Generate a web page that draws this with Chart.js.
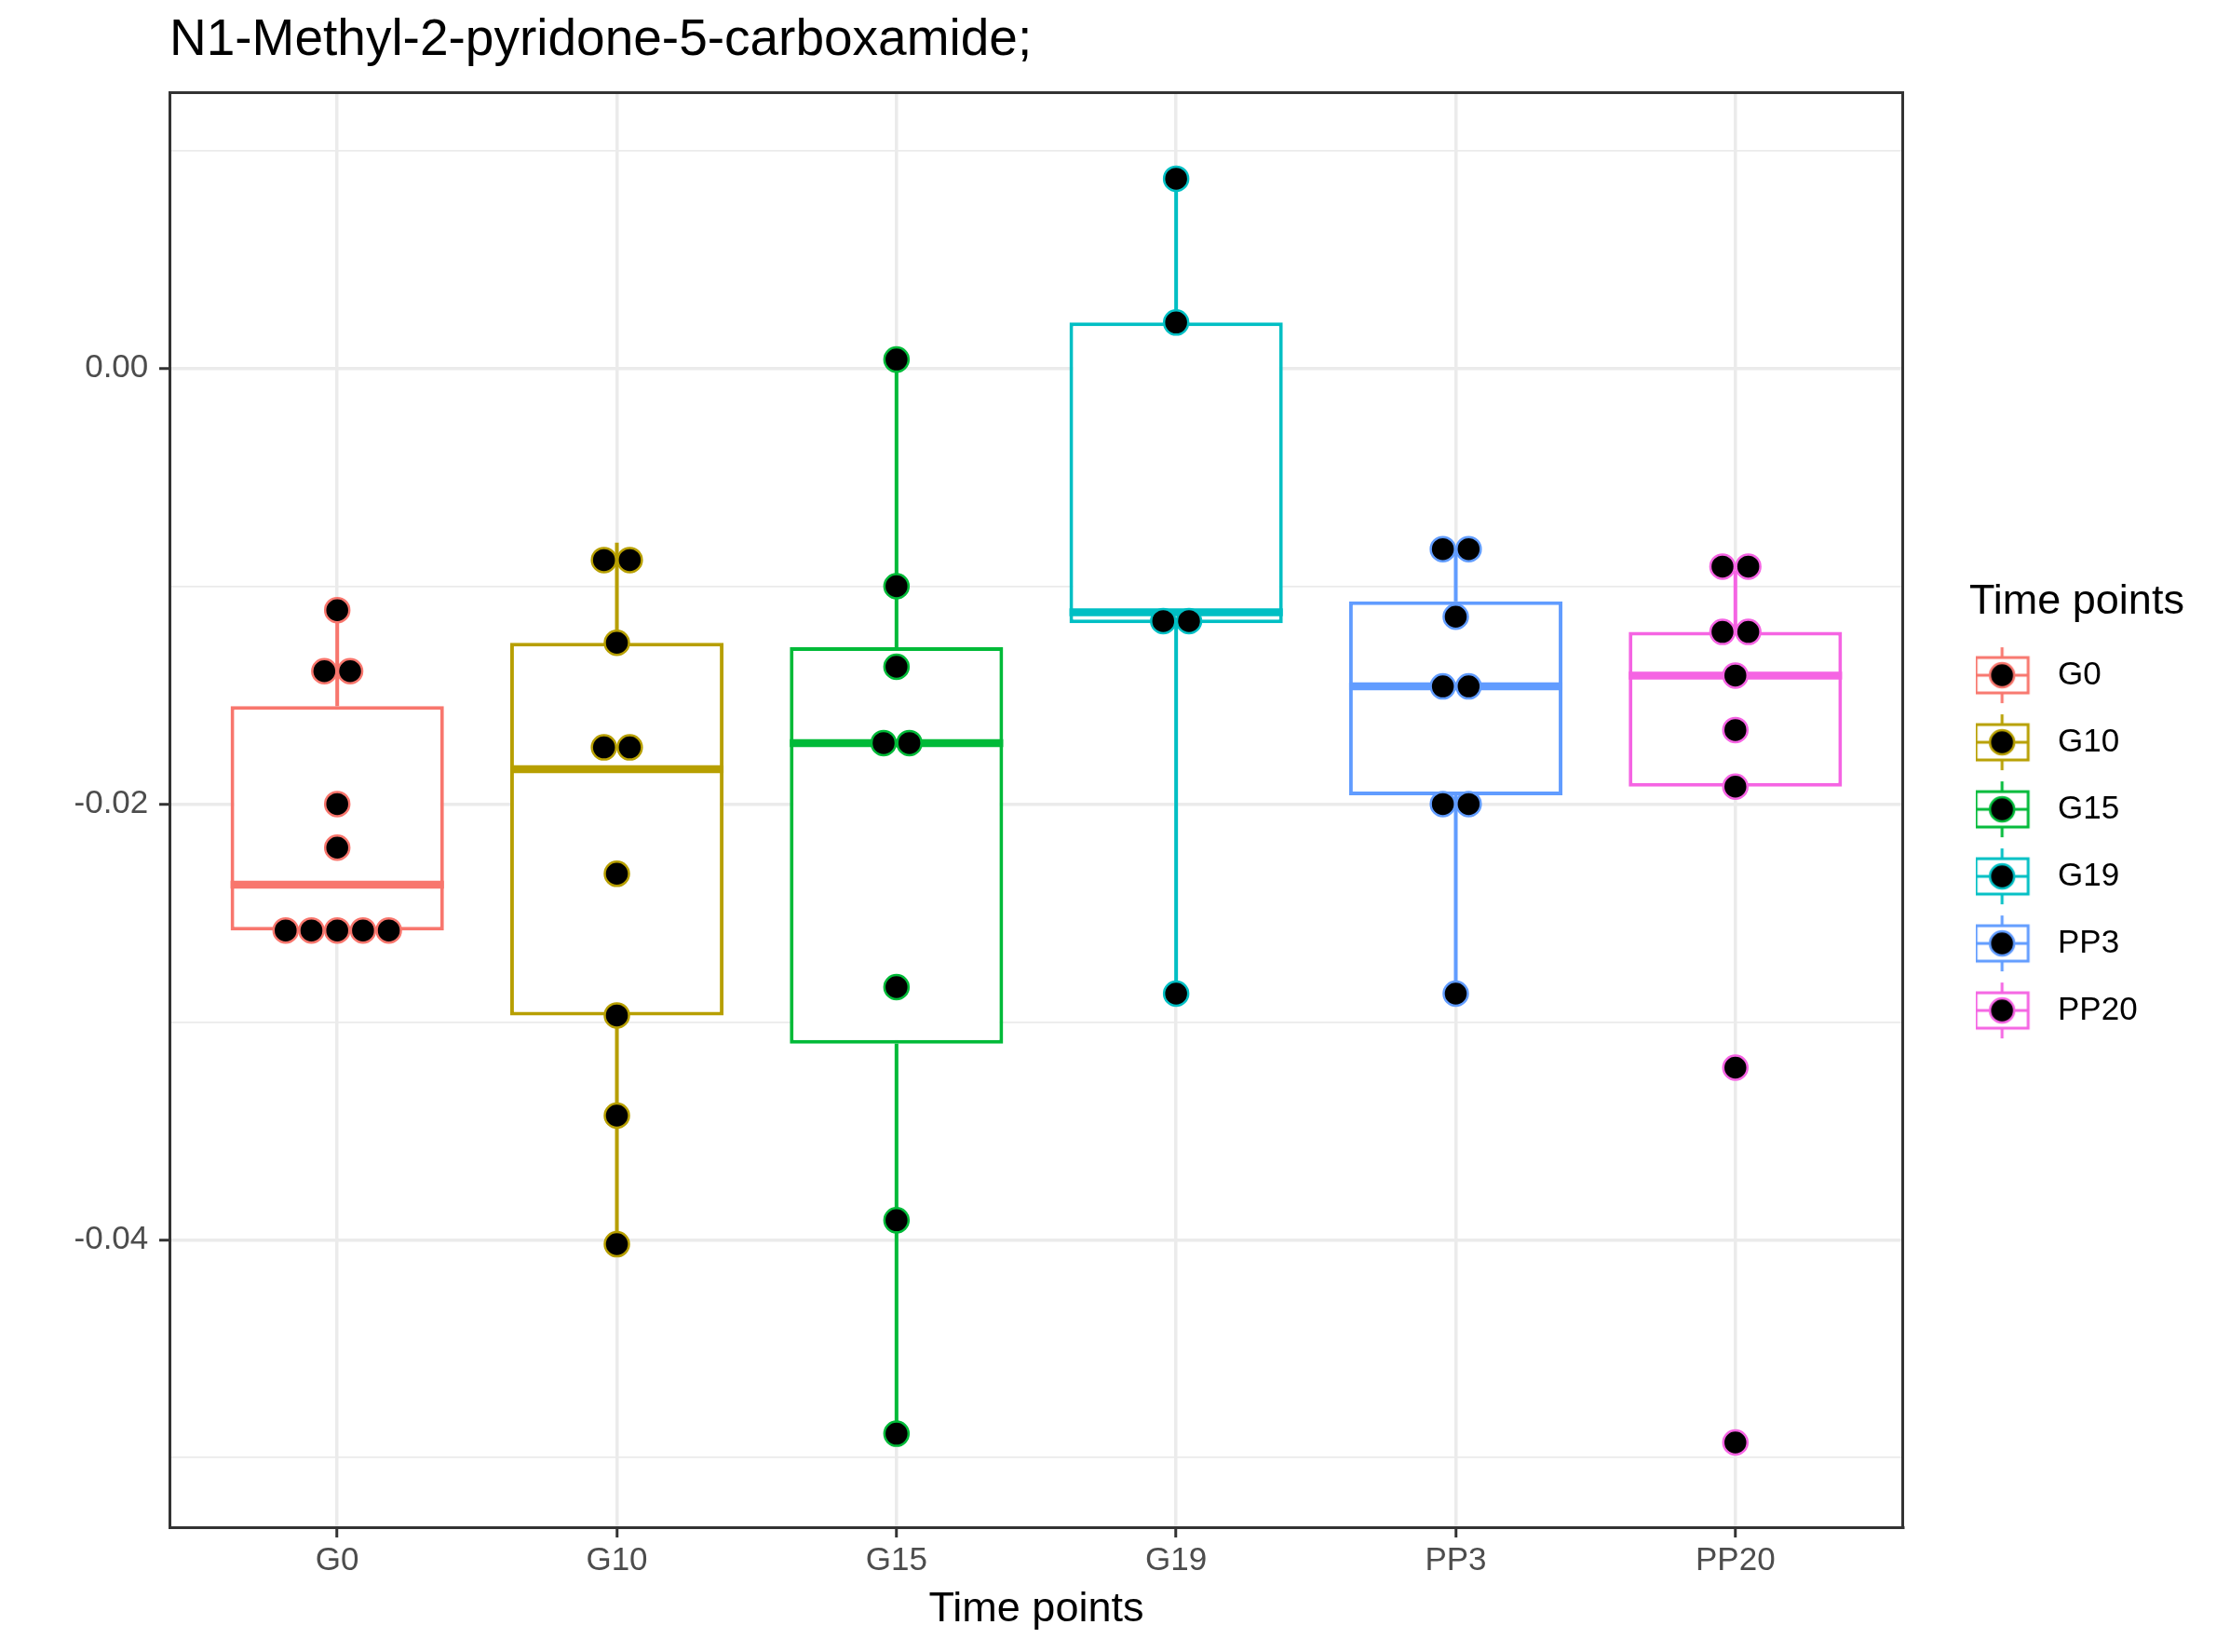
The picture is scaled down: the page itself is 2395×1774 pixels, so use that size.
<!DOCTYPE html>
<html>
<head>
<meta charset="utf-8">
<script src="https://cdn.jsdelivr.net/npm/chart.js@4.4.1/dist/chart.umd.min.js"></script>
<style>
  html, body { margin: 0; padding: 0; background: #fff; }
  #wrap { width: 2395px; height: 1774px; }
</style>
</head>
<body>
<div id="wrap"><canvas id="chart" width="2395" height="1774"></canvas></div>
<script>
// x categories and their ggplot hue colours
const groups = ["G0", "G10", "G15", "G19", "PP3", "PP20"];
const colors = ["#F8766D", "#B79F00", "#00BA38", "#00BFC4", "#619CFF", "#F564E3"];

// box statistics
const whiskerLow  = [-0.0258, -0.0402, -0.0489, -0.0287, -0.0287, -0.0192];
const q1          = [-0.0258, -0.0297, -0.0310, -0.0117, -0.0196, -0.0192];
const median      = [-0.0237, -0.0184, -0.0172, -0.0112, -0.0146, -0.0141];
const q3          = [-0.0155, -0.0126, -0.0128,  0.0021, -0.0107, -0.0121];
const whiskerHigh = [-0.0111, -0.0080,  0.0004,  0.0087, -0.0083, -0.0093];

// dot plot values (binned, repeated values sit side by side)
const dotsG0   = [-0.0111, -0.0139, -0.0139, -0.0200, -0.0220, -0.0258, -0.0258, -0.0258, -0.0258, -0.0258];
const dotsG10  = [-0.0088, -0.0088, -0.0126, -0.0174, -0.0174, -0.0232, -0.0297, -0.0343, -0.0402];
const dotsG15  = [0.0004, -0.0100, -0.0137, -0.0172, -0.0172, -0.0284, -0.0391, -0.0489];
const dotsG19  = [0.0087, 0.0021, -0.0116, -0.0116, -0.0287];
const dotsPP3  = [-0.0083, -0.0083, -0.0114, -0.0146, -0.0146, -0.0200, -0.0200, -0.0287];
const dotsPP20 = [-0.0091, -0.0091, -0.0121, -0.0121, -0.0141, -0.0166, -0.0192, -0.0321, -0.0493];
const dots = [dotsG0, dotsG10, dotsG15, dotsG19, dotsPP3, dotsPP20];

// y axis range
const yMin = -0.05319, yMax = 0.01265;
const boxWidth = 0.763; // 0.75 plus the outline that ggplot draws outside the box
const dotStep = 0.0922; // horizontal step between dots of the same bin, in x units

Chart.defaults.font.family = '"Liberation Sans", Arial, Helvetica, sans-serif';

const grey20 = "#333333", grey30 = "#4D4D4D", grey92 = "#EBEBEB";

function spread(values) {
  const counts = {}, seen = {};
  values.forEach(v => { counts[v] = (counts[v] || 0) + 1; });
  return values.map(v => {
    const k = seen[v] || 0;
    seen[v] = k + 1;
    return (k - (counts[v] - 1) / 2) * dotStep;
  });
}

// boxplot legend key, drawn once per colour
function keyGlyph(color) {
  const c = document.createElement("canvas");
  c.width = 100; c.height = 72;
  const g = c.getContext("2d");
  const cx = 28, cy = 36;
  g.strokeStyle = color;
  g.lineWidth = 3;
  g.beginPath(); g.moveTo(cx, cy - 30); g.lineTo(cx, cy + 30); g.stroke();
  g.fillStyle = "#fff";
  g.fillRect(cx - 28, cy - 19, 56, 38);
  g.strokeRect(cx - 28, cy - 19, 56, 38);
  g.beginPath(); g.moveTo(cx - 28, cy); g.lineTo(cx + 28, cy); g.stroke();
  g.beginPath(); g.arc(cx, cy, 13, 0, Math.PI * 2);
  g.fillStyle = "#000"; g.fill();
  g.lineWidth = 2.5; g.stroke();
  return c;
}
const glyphs = colors.map(keyGlyph);

// the legend clips to its own box, give the title room
const legendRoom = {
  id: "legendRoom",
  afterLayout(chart) {
    const l = chart.legend;
    if (l) { l.right = chart.width; l.width = l.right - l.left; }
  }
};

const datasets = [];

// boxes
datasets.push({
  type: "bar",
  label: "box",
  data: groups.map((g, i) => ({ x: i + 1, y: [q1[i], q3[i]] })),
  backgroundColor: "#ffffff",
  borderColor: colors,
  borderWidth: 4,
  borderSkipped: false,
  barPercentage: boxWidth,
  categoryPercentage: 1,
  order: 2
});

groups.forEach((g, i) => {
  const x = i + 1;
  // whiskers
  datasets.push({
    type: "line",
    label: g + " whisker",
    data: [
      { x: x, y: q3[i] }, { x: x, y: whiskerHigh[i] }, { x: x, y: null },
      { x: x, y: q1[i] }, { x: x, y: whiskerLow[i] }
    ],
    borderColor: colors[i],
    borderWidth: 4,
    pointRadius: 0,
    spanGaps: false,
    fill: false,
    order: 3
  });
  // median
  datasets.push({
    type: "line",
    label: g + " median",
    data: [{ x: x - boxWidth / 2, y: median[i] }, { x: x + boxWidth / 2, y: median[i] }],
    borderColor: colors[i],
    borderWidth: 8.5,
    borderCapStyle: "butt",
    pointRadius: 0,
    fill: false,
    order: 1
  });
  // dots
  const offs = spread(dots[i]);
  datasets.push({
    type: "scatter",
    label: g,
    data: dots[i].map((v, k) => ({ x: x + offs[k], y: v })),
    pointRadius: 13,
    pointHoverRadius: 13,
    pointBackgroundColor: "#000000",
    pointBorderColor: colors[i],
    pointBorderWidth: 2.5,
    order: 0
  });
});

const isMinor = c => c.tick && Math.abs(Math.round(c.tick.value * 100)) % 2 === 1;

new Chart(document.getElementById("chart"), {
  type: "scatter",
  data: { datasets: datasets },
  plugins: [legendRoom],
  options: {
    responsive: false,
    animation: false,
    events: [],
    layout: { padding: { left: 0, right: 89.4, top: 0, bottom: 0 } },
    plugins: {
      tooltip: { enabled: false },
      title: {
        display: true,
        text: "N1-Methyl-2-pyridone-5-carboxamide;",
        align: "start",
        fullSize: false,
        color: "#000000",
        font: { size: 55, weight: "normal" },
        padding: { top: 11, bottom: 22.5 }
      },
      legend: {
        position: "right",
        align: "start",
        title: {
          display: true,
          text: "Time points",
          position: "start",
          color: "#000000",
          font: { size: 45, lineHeight: 1 },
          padding: { top: 624, bottom: 1.6 }
        },
        labels: {
          usePointStyle: true,
          pointStyleWidth: 40.5,
          padding: 37,
          color: "#000000",
          font: { size: 35 },
          generateLabels: () => groups.map((g, i) => ({
            text: g,
            pointStyle: glyphs[i],
            fillStyle: "#000",
            strokeStyle: colors[i],
            lineWidth: 0,
            hidden: false,
            datasetIndex: i
          }))
        }
      }
    },
    scales: {
      x: {
        type: "linear",
        position: "bottom",
        min: 0.4,
        max: 6.6,
        offset: false,
        afterFit: s => { s.height = 134; },
        grid: {
          offset: false,
          color: grey92,
          lineWidth: 3.5,
          tickColor: grey20,
          tickLength: 11,
          tickWidth: 3
        },
        border: { display: true, color: grey20, width: 3 },
        ticks: {
          stepSize: 1,
          includeBounds: false,
          autoSkip: false,
          maxRotation: 0,
          padding: 4,
          color: grey30,
          font: { size: 35 },
          callback: v => groups[v - 1] || ""
        },
        title: {
          display: true,
          text: "Time points",
          color: "#000000",
          font: { size: 45 },
          padding: { top: 0, bottom: 18 }
        }
      },
      y: {
        type: "linear",
        position: "left",
        min: yMin,
        max: yMax,
        afterFit: s => { s.width = 182; },
        grid: {
          color: grey92,
          lineWidth: c => isMinor(c) ? 1.8 : 3.5,
          tickColor: c => isMinor(c) ? "rgba(0,0,0,0)" : grey20,
          tickLength: 11,
          tickWidth: 3
        },
        border: { display: true, color: grey20, width: 3 },
        ticks: {
          stepSize: 0.01,
          includeBounds: false,
          autoSkip: false,
          padding: 11.7,
          color: grey30,
          font: { size: 35 },
          callback: v => {
            const k = Math.round(v * 100);
            return k % 2 === 0 ? (k / 100).toFixed(2) : "";
          }
        }
      },
      x2: {
        type: "linear",
        axis: "x",
        position: "top",
        afterFit: s => { s.height = 0; },
        grid: { display: false },
        ticks: { display: false },
        border: { display: true, color: grey20, width: 3 }
      },
      y2: {
        type: "linear",
        axis: "y",
        position: "right",
        afterFit: s => { s.width = 71; },
        grid: { display: false },
        ticks: { display: false },
        border: { display: true, color: grey20, width: 3 }
      }
    }
  }
});
</script>
</body>
</html>
